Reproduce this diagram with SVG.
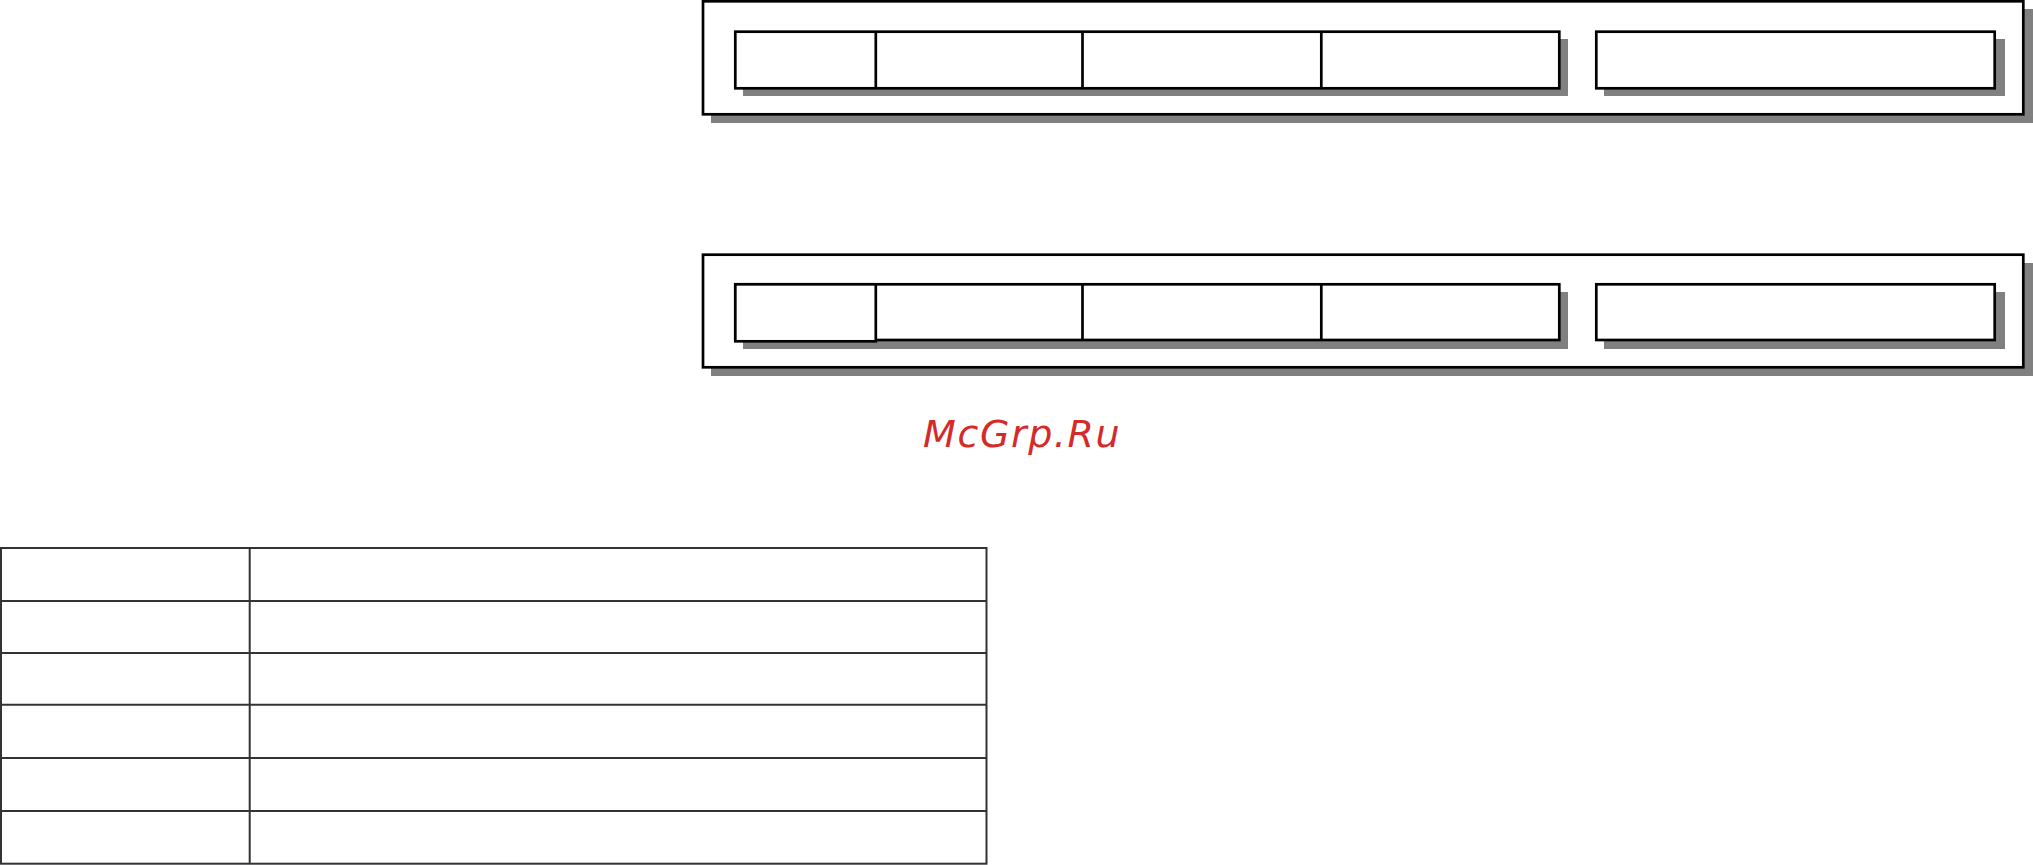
<svg xmlns="http://www.w3.org/2000/svg" width="2033" height="865" viewBox="0 0 2033 865">
<style>
.sh{fill:#808080;stroke:none}
.bx{fill:#fff;stroke:#000;stroke-width:2.7}
.dv{stroke:#000;stroke-width:2.7;fill:none}
.tb{fill:none;stroke:#333336;stroke-width:2}
.wm{font-family:"DejaVu Sans",sans-serif;font-style:italic;font-size:38px;fill:#d42a2a;letter-spacing:1.6px}
</style>
<rect width="2033" height="865" fill="#fff"/>
<g id="panel1">
<rect class="sh" x="711" y="9" width="1322" height="114"/>
<rect class="bx" x="703" y="1.3" width="1320.3" height="113"/>
<rect class="sh" x="743" y="39" width="825" height="57"/>
<rect class="bx" x="735.3" y="31.7" width="824" height="56.6"/>
<line class="dv" x1="875.8" y1="31.7" x2="875.8" y2="88.3"/>
<line class="dv" x1="1082.5" y1="31.7" x2="1082.5" y2="88.3"/>
<line class="dv" x1="1321.3" y1="31.7" x2="1321.3" y2="88.3"/>
<rect class="sh" x="1604" y="39" width="401" height="57"/>
<rect class="bx" x="1596.3" y="31.7" width="398.4" height="56.6"/>
</g>
<g id="panel2">
<rect class="sh" x="711" y="263" width="1322" height="113"/>
<rect class="bx" x="703" y="254.7" width="1320.3" height="112.6"/>
<rect class="sh" x="743" y="292" width="825" height="57"/>
<rect class="bx" x="735.3" y="284.3" width="824" height="55.7"/>
<rect class="bx" x="735.3" y="284.3" width="140.5" height="57"/>
<line class="dv" x1="1082.5" y1="284.3" x2="1082.5" y2="340"/>
<line class="dv" x1="1321.3" y1="284.3" x2="1321.3" y2="340"/>
<rect class="sh" x="1604" y="292" width="401" height="57"/>
<rect class="bx" x="1596.3" y="284.3" width="398.4" height="55.7"/>
</g>
<g id="watermark">
<text class="wm" x="923" y="447">McGrp.Ru</text>
</g>
<g id="table">
<rect class="tb" x="1" y="548" width="985.5" height="315.7"/>
<line class="tb" x1="249.7" y1="548" x2="249.7" y2="863.7"/>
<line class="tb" x1="1" y1="601" x2="986.5" y2="601"/>
<line class="tb" x1="1" y1="653" x2="986.5" y2="653"/>
<line class="tb" x1="1" y1="704.7" x2="986.5" y2="704.7"/>
<line class="tb" x1="1" y1="758" x2="986.5" y2="758"/>
<line class="tb" x1="1" y1="811" x2="986.5" y2="811"/>
</g>
<g id="connectors"/>
</svg>
